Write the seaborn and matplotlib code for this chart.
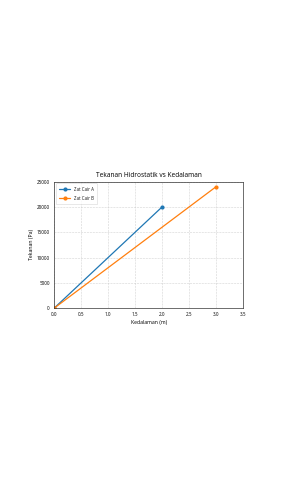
import matplotlib
matplotlib.use("Agg")
import matplotlib.pyplot as plt
import seaborn as sns
import pandas as pd

depth_a = [0, 2]
pressure_a = [0, 20000]
depth_b = [0, 3]
pressure_b = [0, 24000]
labels = ["Zat Cair A", "Zat Cair B"]

df = pd.DataFrame({
    "Kedalaman": depth_a + depth_b,
    "Tekanan": pressure_a + pressure_b,
    "Zat": [labels[0]] * len(depth_a) + [labels[1]] * len(depth_b),
})

sns.set_style("white")
plt.rcParams["font.family"] = ["Noto Sans", "DejaVu Sans"]
fig = plt.figure(figsize=(2.81, 5.0), dpi=100)
ax = fig.add_axes([54 / 281, 1 - 308.3 / 500, (243.3 - 54) / 281, (308.3 - 181.5) / 500])

sns.lineplot(data=df, x="Kedalaman", y="Tekanan", hue="Zat", marker="o",
             palette=["#1f77b4", "#ff7f0e"], linewidth=0.9, markersize=3.0,
             markeredgewidth=0, ax=ax)

ax.set_xlim(0, 3.5)
ax.set_ylim(0, 25000)
ax.set_xticks([0, 0.5, 1.0, 1.5, 2.0, 2.5, 3.0, 3.5])
ax.set_yticks([0, 5000, 10000, 15000, 20000, 25000])
ax.grid(True, linestyle="--", linewidth=0.4, color="#c8c8c8", alpha=0.8)
ax.tick_params(labelsize=3.3, length=1.8, width=0.4, pad=1.2, colors="#111111")
for s in ax.spines.values():
    s.set_linewidth(0.5)
    s.set_color("#333333")
ax.set_title("Tekanan Hidrostatik vs Kedalaman", fontsize=4.7, pad=3.2, color="#111111")
ax.set_xlabel("Kedalaman (m)", fontsize=3.7, labelpad=1.5, color="#111111")
ax.set_ylabel("Tekanan (Pa)", fontsize=3.7, labelpad=2, color="#111111")
leg = ax.legend(loc="upper left", fontsize=3.2, frameon=True, borderpad=0.8,
                handlelength=2.4, labelspacing=0.9, borderaxespad=0.4)
leg.get_frame().set_linewidth(0.4)

fig.savefig("out.png", dpi=100, facecolor="white")
